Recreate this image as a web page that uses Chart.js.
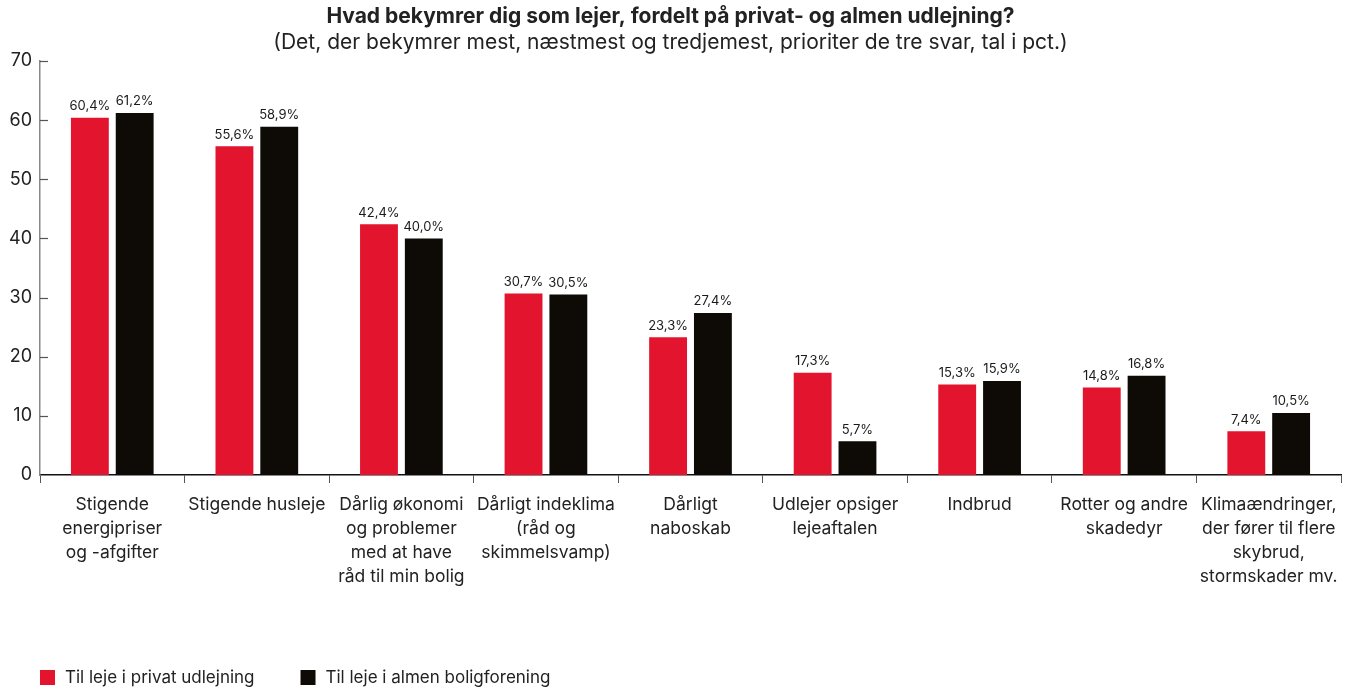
<!DOCTYPE html>
<html>
<head>
<meta charset="utf-8">
<script src="https://cdn.jsdelivr.net/npm/chart.js@4/dist/chart.umd.min.js"></script>
<style>
  body { margin: 0; background: #fff; }
  #wrap { width: 1353px; height: 690px; position: relative; }
</style>
</head>
<body>
<div id="wrap"><canvas id="chart"></canvas></div>
<script>
var categories = [
	["Stigende", "energipriser", "og -afgifter"],
	"Stigende husleje",
	["Dårlig økonomi", "og problemer", "med at have", "råd til min bolig"],
	["Dårligt indeklima", "(råd og", "skimmelsvamp)"],
	["Dårligt", "naboskab"],
	["Udlejer opsiger", "lejeaftalen"],
	"Indbrud",
	["Rotter og andre", "skadedyr"],
	["Klimaændringer,", "der fører til flere", "skybrud,", "stormskader mv."]
];
var privat = [60.4, 55.6, 42.4, 30.7, 23.3, 17.3, 15.3, 14.8, 7.4];
var almen = [61.2, 58.9, 40.0, 30.5, 27.4, 5.7, 15.9, 16.8, 10.5];
var seriesNames = ["Til leje i privat udlejning", "Til leje i almen boligforening"];
var yTicks = [0, 10, 20, 30, 40, 50, 60, 70];

var FONT = "Inter, 'Noto Sans', sans-serif";

// labels over the bars, e.g. 60,4%
var barLabels = {
	id: "barLabels",
	afterDatasetsDraw: function(chart) {
		var ctx = chart.ctx;
		ctx.save();
		ctx.font = "13px " + FONT;
		ctx.fillStyle = "#1a1a1a";
		ctx.textAlign = "center";
		ctx.textBaseline = "bottom";
		chart.data.datasets.forEach(function(ds, i) {
			chart.getDatasetMeta(i).data.forEach(function(bar, j) {
				var txt = ds.data[j].toFixed(1).replace(".", ",") + "%";
				ctx.fillText(txt, bar.x, bar.y - 5);
			});
		});
		ctx.restore();
	}
};

// small tick marks pointing into the plot on the y axis
var yInnerTicks = {
	id: "yInnerTicks",
	afterDraw: function(chart) {
		var ctx = chart.ctx;
		var y = chart.scales.y;
		var left = chart.chartArea.left;
		ctx.save();
		ctx.strokeStyle = "#555";
		ctx.lineWidth = 1.2;
		yTicks.forEach(function(v) {
			if (v === 0) return;
			var py = Math.round(y.getPixelForValue(v)) + 0.5;
			ctx.beginPath();
			ctx.moveTo(left, py);
			ctx.lineTo(left + 8, py);
			ctx.stroke();
		});
		ctx.restore();
	}
};

// legend at the bottom left, drawn by hand for the spacing
var bottomLegend = {
	id: "bottomLegend",
	afterDraw: function(chart) {
		var ctx = chart.ctx;
		var x = 40;
		var cy = 678;
		ctx.save();
		ctx.font = "17px " + FONT;
		ctx.textBaseline = "middle";
		ctx.textAlign = "left";
		chart.data.datasets.forEach(function(ds) {
			ctx.fillStyle = ds.backgroundColor;
			ctx.fillRect(x, cy - 8, 15, 15);
			ctx.fillStyle = "#222";
			ctx.fillText(ds.label, x + 25, cy);
			x += 25 + ctx.measureText(ds.label).width + 46;
		});
		ctx.restore();
	}
};

var ctx1 = document.getElementById("chart");
var chart1 = new Chart(ctx1, {
	type: "bar",
	data: {
		labels: categories,
		datasets: [
			{
				label: seriesNames[0],
				data: privat,
				backgroundColor: "#E3142D",
				categoryPercentage: 0.62,
				barPercentage: 0.845
			},
			{
				label: seriesNames[1],
				data: almen,
				backgroundColor: "#0E0A05",
				categoryPercentage: 0.62,
				barPercentage: 0.845
			}
		]
	},
	options: {
		responsive: true,
		maintainAspectRatio: false,
		animation: false,
		layout: { padding: { left: 0, right: 12, top: 4, bottom: 39 } },
		plugins: {
			title: {
				display: true,
				text: "Hvad bekymrer dig som lejer, fordelt på privat- og almen udlejning?",
				color: "#222",
				font: { family: FONT, size: 21, weight: "bold", lineHeight: 1.2 },
				padding: { top: 0, bottom: 1 }
			},
			subtitle: {
				display: true,
				text: "(Det, der bekymrer mest, næstmest og tredjemest, prioriter de tre svar, tal i pct.)",
				color: "#222",
				font: { family: FONT, size: 21, lineHeight: 1.2 },
				padding: { top: 0, bottom: 5.6 }
			},
			legend: { display: false },
			tooltip: { enabled: false }
		},
		scales: {
			x: {
				grid: {
					display: true,
					drawOnChartArea: false,
					drawTicks: true,
					tickLength: 8,
					color: "#555",
					offset: true
				},
				border: { display: true, color: "#111", width: 1.5 },
				ticks: {
					color: "#222",
					font: { family: FONT, size: 17.5, lineHeight: 1.37 },
					maxRotation: 0,
					autoSkip: false,
					padding: 10
				},
				afterFit: function(scale) { scale.height = 176; }
			},
			y: {
				min: 0,
				max: 70,
				grid: { display: false, drawTicks: false },
				border: { display: true, color: "#888", width: 1.5 },
				ticks: {
					stepSize: 10,
					color: "#222",
					font: { family: FONT, size: 18 },
					padding: 8
				},
				afterFit: function(scale) { scale.width = 40; }
			}
		}
	},
	plugins: [barLabels, yInnerTicks, bottomLegend]
});
</script>
</body>
</html>
